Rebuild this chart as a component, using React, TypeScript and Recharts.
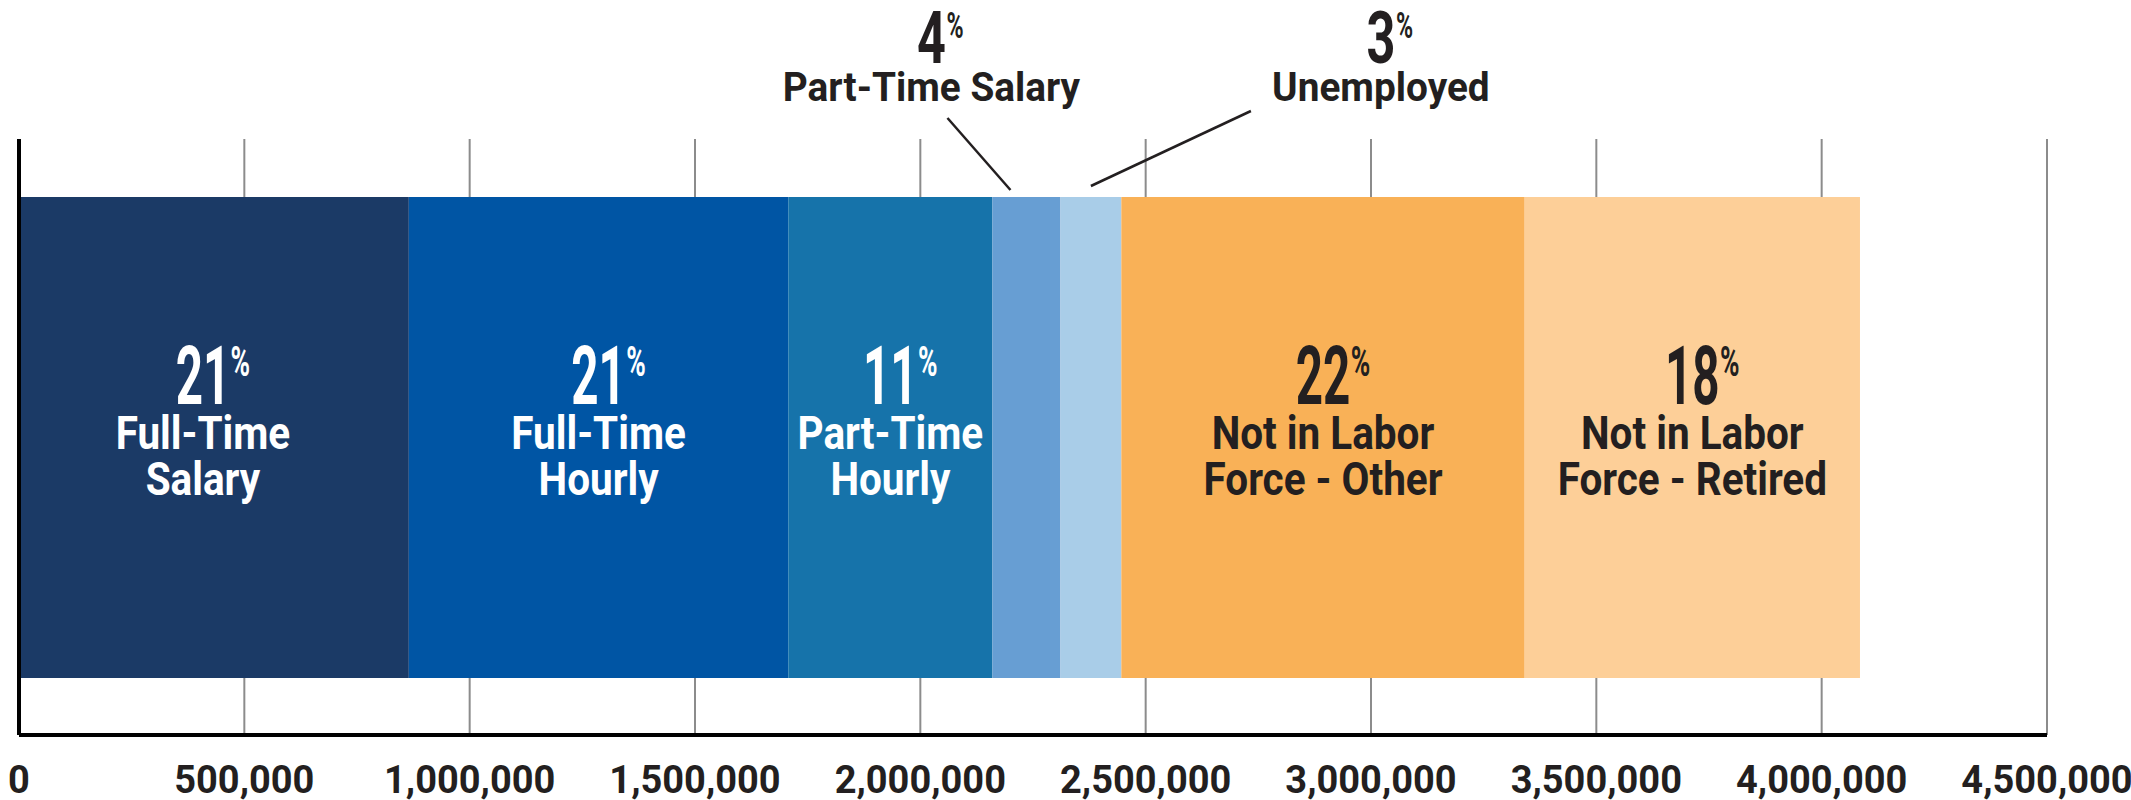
import React from 'react';
import { BarChart, Bar, XAxis, YAxis, CartesianGrid, ReferenceLine } from 'recharts';

const categories = [
  'Full-Time Salary',
  'Full-Time Hourly',
  'Part-Time Hourly',
  'Part-Time Salary',
  'Unemployed',
  'Not in Labor Force - Other',
  'Not in Labor Force - Retired',
];
const seriesKeys = ['fts', 'fth', 'pth', 'pts', 'unemp', 'nilfOther', 'nilfRetired'];
const values = [865000, 842000, 453000, 151000, 135000, 895000, 744000];
const percents = [21, 21, 11, 4, 3, 22, 18];
const labelLines = [
  ['Full-Time', 'Salary'],
  ['Full-Time', 'Hourly'],
  ['Part-Time', 'Hourly'],
  ['Part-Time Salary'],
  ['Unemployed'],
  ['Not in Labor', 'Force - Other'],
  ['Not in Labor', 'Force - Retired'],
];
const xTicks = [0, 500000, 1000000, 1500000, 2000000, 2500000, 3000000, 3500000, 4000000, 4500000];

const colors = ['#1b3a66', '#0055a4', '#1673aa', '#679ed3', '#a9cde8', '#f9b157', '#fdcf98'];
const textColors = ['#ffffff', '#ffffff', '#ffffff', '#231f20', '#231f20', '#231f20', '#231f20'];

// small segments get their label above the bar with a leader line
const callouts: Record<number, { dx: number; line: number[] }> = {
  3: { dx: -95, line: [-16, -7, -79, -79] },
  4: { dx: 290, line: [0, -11, 160, -86] },
};
const labelShift: Record<number, number> = { 0: -11 };

const FONT = "Roboto, 'Liberation Sans', sans-serif";
const DIGIT_EM = 0.5615;
const CAP_EM = 0.711;

function SText({ x, y, sx = 1, size, color, anchor = 'middle', children }: any) {
  return (
    <text
      transform={`translate(${x},${y}) scale(${sx},1)`}
      textAnchor={anchor}
      fill={color}
      fontFamily={FONT}
      fontWeight={700}
      fontSize={size}
    >
      {children}
    </text>
  );
}

// condensed big number with a small raised percent sign
function BigPercent({ x, y, value, size, sx, color }: { x: number; y: number; value: number; size: number; sx: number; color: string }) {
  const s = String(value);
  const half = (s.length * DIGIT_EM * size * sx) / 2;
  const pSize = size * 0.52;
  const pBase = y - CAP_EM * size + CAP_EM * pSize;
  return (
    <g>
      <SText x={x} y={y} sx={sx} size={size} color={color}>{s}</SText>
      <SText x={x + half + 1} y={pBase} sx={0.62} size={pSize} color={color} anchor="start">%</SText>
    </g>
  );
}

const makeLabel = (i: number) => (props: any) => {
  const x = Number(props.x);
  const top = Number(props.y);
  const w = Number(props.width);
  const h = Number(props.height);
  const cx = x + w / 2 + (labelShift[i] || 0);
  const cy = top + h / 2;
  const color = textColors[i];
  const call = callouts[i];
  if (call) {
    const lx = cx + call.dx;
    return (
      <g>
        <line
          x1={cx + call.line[0]}
          y1={top + call.line[1]}
          x2={cx + call.line[2]}
          y2={top + call.line[3]}
          stroke="#231f20"
          strokeWidth={2.5}
        />
        <BigPercent x={lx} y={top - 134} value={percents[i]} size={72} sx={0.7} color={color} />
        <SText x={lx} y={top - 96} sx={0.97} size={40} color={color}>{labelLines[i][0]}</SText>
      </g>
    );
  }
  return (
    <g>
      <BigPercent x={cx} y={cy - 34} value={percents[i]} size={82} sx={0.58} color={color} />
      {labelLines[i].map((t, j) => (
        <SText key={j} x={cx} y={cy + 11 + j * 46} sx={0.88} size={46} color={color}>{t}</SText>
      ))}
    </g>
  );
};

function XTick({ x, y, payload }: any) {
  return (
    <text x={x} y={y + 58} textAnchor="middle" fill="#231f20" fontFamily={FONT} fontWeight={700} fontSize={38}>
      {Number(payload.value).toLocaleString('en-US')}
    </text>
  );
}

const row: Record<string, string | number> = { name: 'Population' };
seriesKeys.forEach((k, i) => {
  row[k] = values[i];
});
const data = [row];

export default function App() {
  return (
    <div style={{ position: 'fixed', left: 0, top: 0, background: '#fff' }}>
      <BarChart
        width={2131}
        height={800}
        data={data}
        layout="vertical"
        margin={{ top: 139, right: 84, bottom: 0, left: 19 }}
      >
        <CartesianGrid horizontal={false} stroke="#8c8c8c" strokeWidth={2} />
        <XAxis
          type="number"
          domain={[0, 4500000]}
          ticks={xTicks}
          interval={0}
          axisLine={{ stroke: '#000', strokeWidth: 4 }}
          tickLine={false}
          tickSize={0}
          tickMargin={0}
          height={65}
          tick={<XTick />}
        />
        <YAxis type="category" dataKey="name" hide width={0} />
        {seriesKeys.map((k, i) => (
          <Bar
            key={k}
            dataKey={k}
            name={categories[i]}
            stackId="pop"
            fill={colors[i]}
            barSize={481}
            isAnimationActive={false}
            label={makeLabel(i)}
          />
        ))}
        <ReferenceLine x={0} stroke="#000" strokeWidth={4} />
      </BarChart>
    </div>
  );
}
